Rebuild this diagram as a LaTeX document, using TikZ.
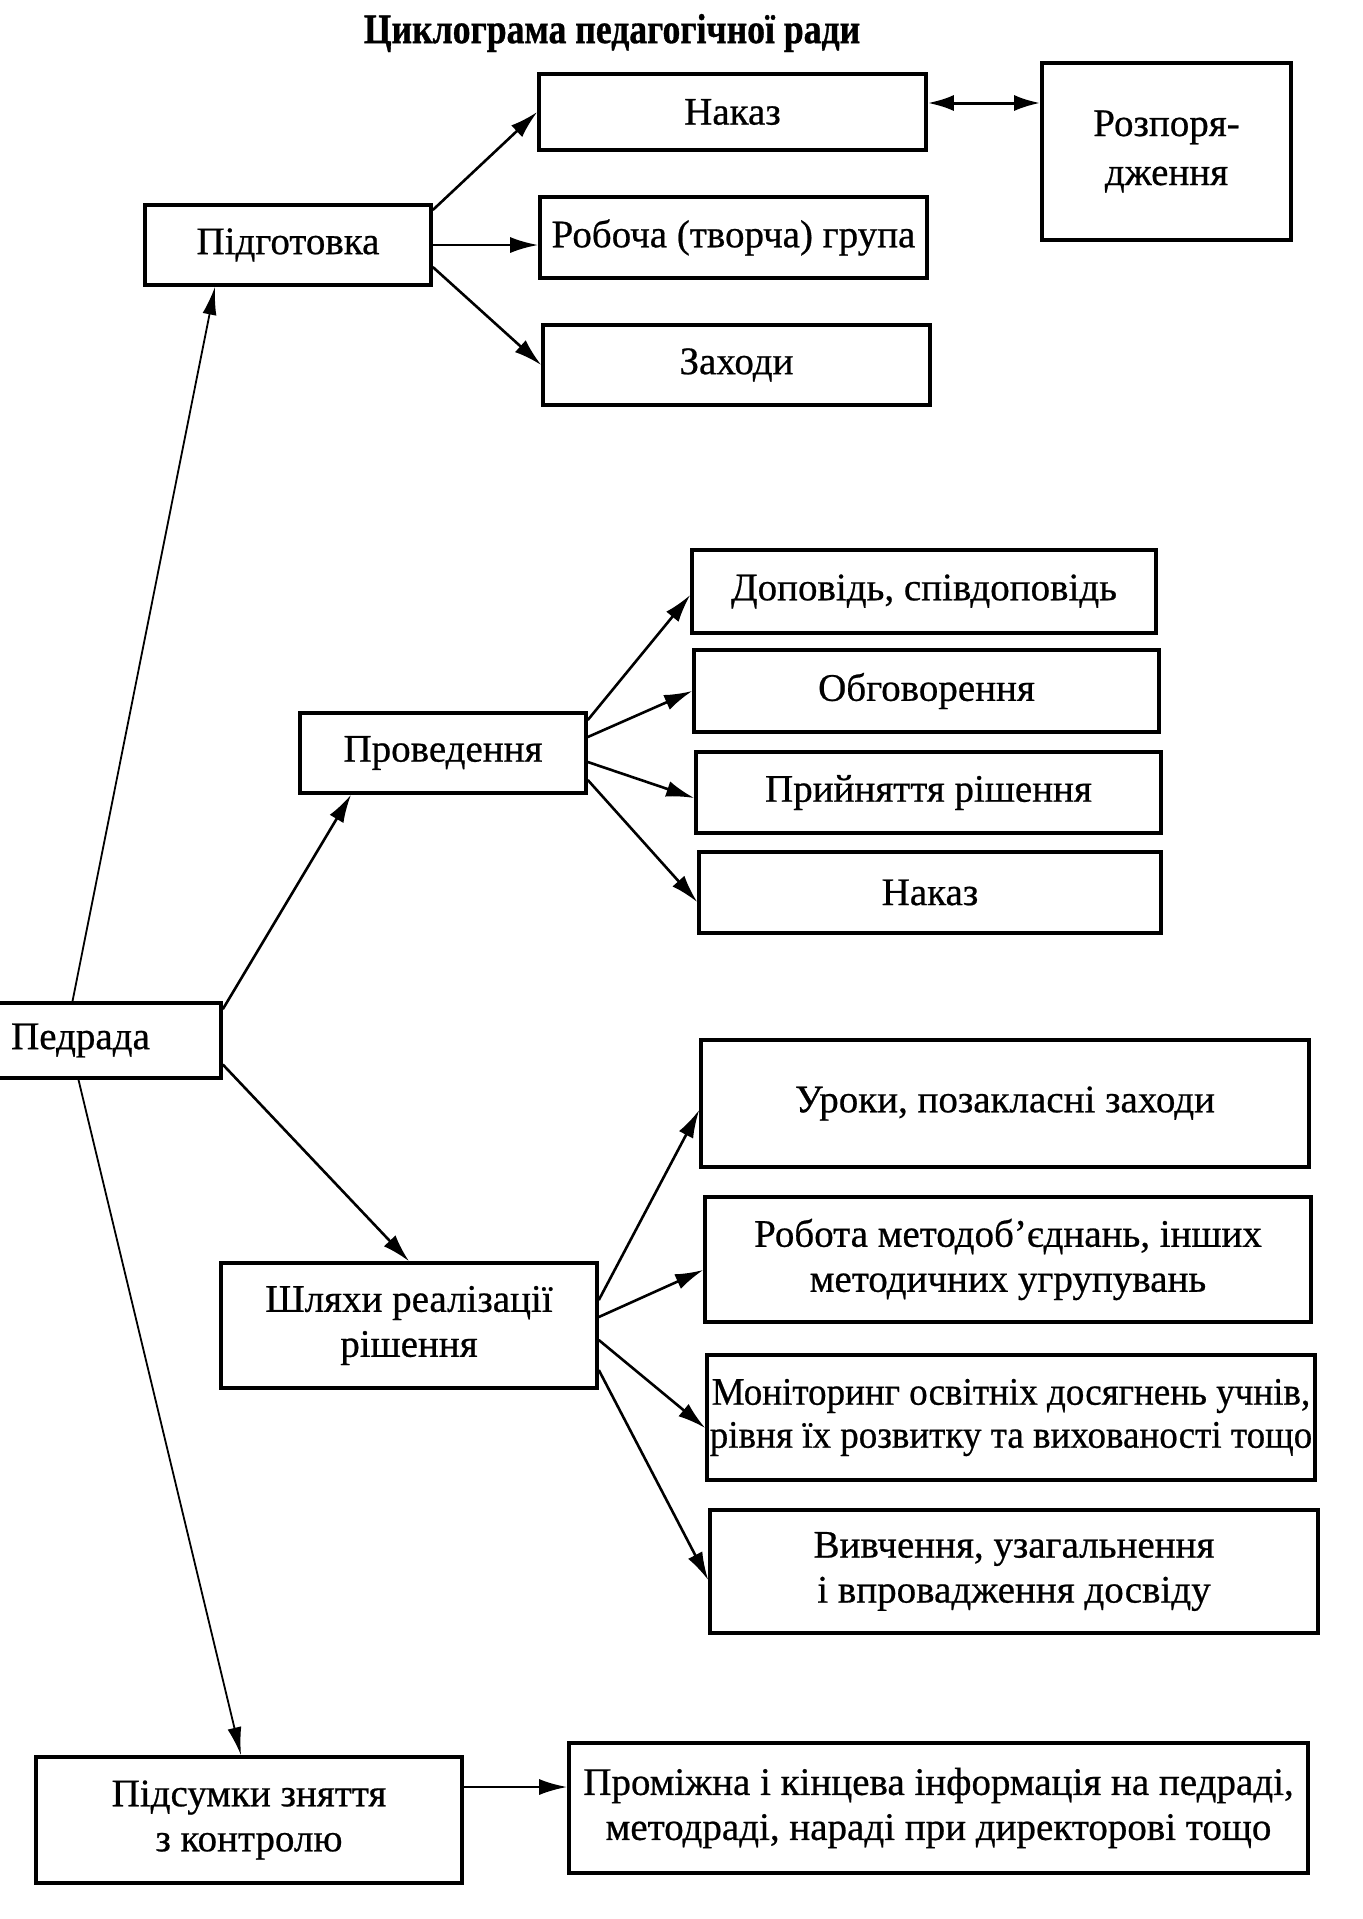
\documentclass[tikz,border=0pt]{standalone}
\usepackage{fontspec}
\setmainfont[FakeBold=0.6]{Liberation Serif}
\newfontfamily\titlefont[FakeStretch=0.85,FakeBold=0.8]{Liberation Serif}
\newfontfamily\condfont[FakeStretch=0.95,FakeBold=0.6]{Liberation Serif}
\usetikzlibrary{arrows.meta,calc}
\begin{document}
\begin{tikzpicture}[x=0.5pt,y=-0.5pt,
  box/.style={draw, line width=1.8pt, align=center, inner sep=0pt,
    font=\fontsize{19.5}{22.5}\selectfont},
  arr/.style={line width=1.3pt, -{Latex[length=14pt,width=8pt]}},
  dbl/.style={line width=1.5pt, {Latex[length=13pt,width=8pt]}-{Latex[length=13pt,width=8pt]}},
  lng/.style={line width=0.9pt, -{Latex[length=14pt,width=7pt]}},
  ttl/.style={font=\titlefont\bfseries\fontsize{21}{24}\selectfont, inner sep=0pt}]
\useasboundingbox[fill=white] (0,0) rectangle (1363,1919);

\node[ttl] (title) at (612,33) {Циклограма педагогічної ради};

\node[box, minimum width=193.5pt, minimum height=38pt] (nakaz1) at (732.5,112) {Наказ};
\node[box, minimum width=124.5pt, minimum height=88.5pt] (rozp) at (1166.5,151.5) {Розпоря-\\[2pt]дження};
\node[box, minimum width=143pt, minimum height=40pt] (pidg) at (288,245) {Підготовка};
\node[box, minimum width=193.5pt, minimum height=40.5pt] (robocha) at (733.5,237.5) {Робоча (творча) група};
\node[box, minimum width=193.5pt, minimum height=40pt] (zakhody) at (736.5,365) {Заходи};

\node[box, minimum width=232pt, minimum height=41.5pt] (dopov) at (924,591.5) {Доповідь, співдоповідь};
\node[box, minimum width=232.5pt, minimum height=41pt] (obhov) at (926.5,691) {Обговорення};
\node[box, minimum width=232.5pt, minimum height=40.5pt] (pryin) at (928.5,792.5) {Прийняття рішення};
\node[box, minimum width=231pt, minimum height=40.5pt] (nakaz2) at (930,892.5) {Наказ};
\node[box, minimum width=143pt, minimum height=40pt] (proved) at (443,753) {Проведення};

\node[box, minimum width=140.5pt, minimum height=37.5pt] (pedrada) at (80.5,1040.5) {Педрада};

\node[box, minimum width=188pt, minimum height=62.5pt] (shlyakhy) at (409,1325.5) {Шляхи реалізації\\рішення};
\node[box, minimum width=304pt, minimum height=63.5pt] (uroky) at (1005,1103.5) {Уроки, позакласні заходи};
\node[box, minimum width=303pt, minimum height=62.5pt] (robota) at (1008,1259.5) {Робота методоб’єднань, інших\\методичних угрупувань};
\node[box, minimum width=304pt, minimum height=62.5pt, font=\condfont\fontsize{19.5}{21.5}\selectfont] (monit) at (1011,1417.5) {Моніторинг освітніх досягнень учнів,\\рівня їх розвитку та вихованості тощо};
\node[box, minimum width=304pt, minimum height=61.5pt] (vyvch) at (1014,1571.5) {Вивчення, узагальнення\\і впровадження досвіду};

\node[box, minimum width=213pt, minimum height=63pt] (pidsum) at (249,1820) {Підсумки зняття\\з контролю};
\node[box, minimum width=369.5pt, minimum height=65pt] (promizh) at (938.5,1808) {Проміжна і кінцева інформація на педраді,\\методраді, нараді при директорові тощо};

% Підготовка
\draw[arr] ([yshift=17.5pt]pidg.east) -- (nakaz1.west);
\draw[arr] (pidg.east) -- (pidg.east -| robocha.west);
\draw[arr] ([yshift=-11pt]pidg.east) -- (zakhody.west);
\draw[dbl] ([yshift=4.5pt]nakaz1.east) -- ([yshift=4.5pt]nakaz1.east -| rozp.west);

% Проведення
\draw[arr] ([yshift=16.5pt]proved.east) -- ([yshift=-1.75pt]dopov.west);
\draw[arr] ([yshift=8pt]proved.east) -- (obhov.west);
\draw[arr] ([yshift=-4.5pt]proved.east) -- ([yshift=-2.75pt]pryin.west);
\draw[arr] ([yshift=-13.5pt]proved.east) -- ([yshift=-4.75pt]nakaz2.west);

% Педрада
\draw[lng] ([xshift=-4pt]pedrada.north) -- ([xshift=-36.5pt]pidg.south);
\draw[arr] ([yshift=-4pt]pedrada.north east) -- ([xshift=-46pt]proved.south);
\draw[arr] ([yshift=-12pt]pedrada.east) -- (shlyakhy.north);
\draw[lng] ([xshift=-1pt]pedrada.south) -- ([xshift=-4pt]pidsum.north);

% Шляхи
\draw[arr] ([yshift=12.75pt]shlyakhy.east) -- ([yshift=-3.25pt]uroky.west);
\draw[arr] ([yshift=4.25pt]shlyakhy.east) -- ([yshift=-5.25pt]robota.west);
\draw[arr] ([yshift=-7.25pt]shlyakhy.east) -- ([yshift=-5.25pt]monit.west);
\draw[arr] ([yshift=-22.25pt]shlyakhy.east) -- ([yshift=-4.25pt]vyvch.west);

% Підсумки
\draw[arr] ([yshift=16.5pt]pidsum.east) -- ([yshift=16.5pt]pidsum.east -| promizh.west);
\end{tikzpicture}
\end{document}
